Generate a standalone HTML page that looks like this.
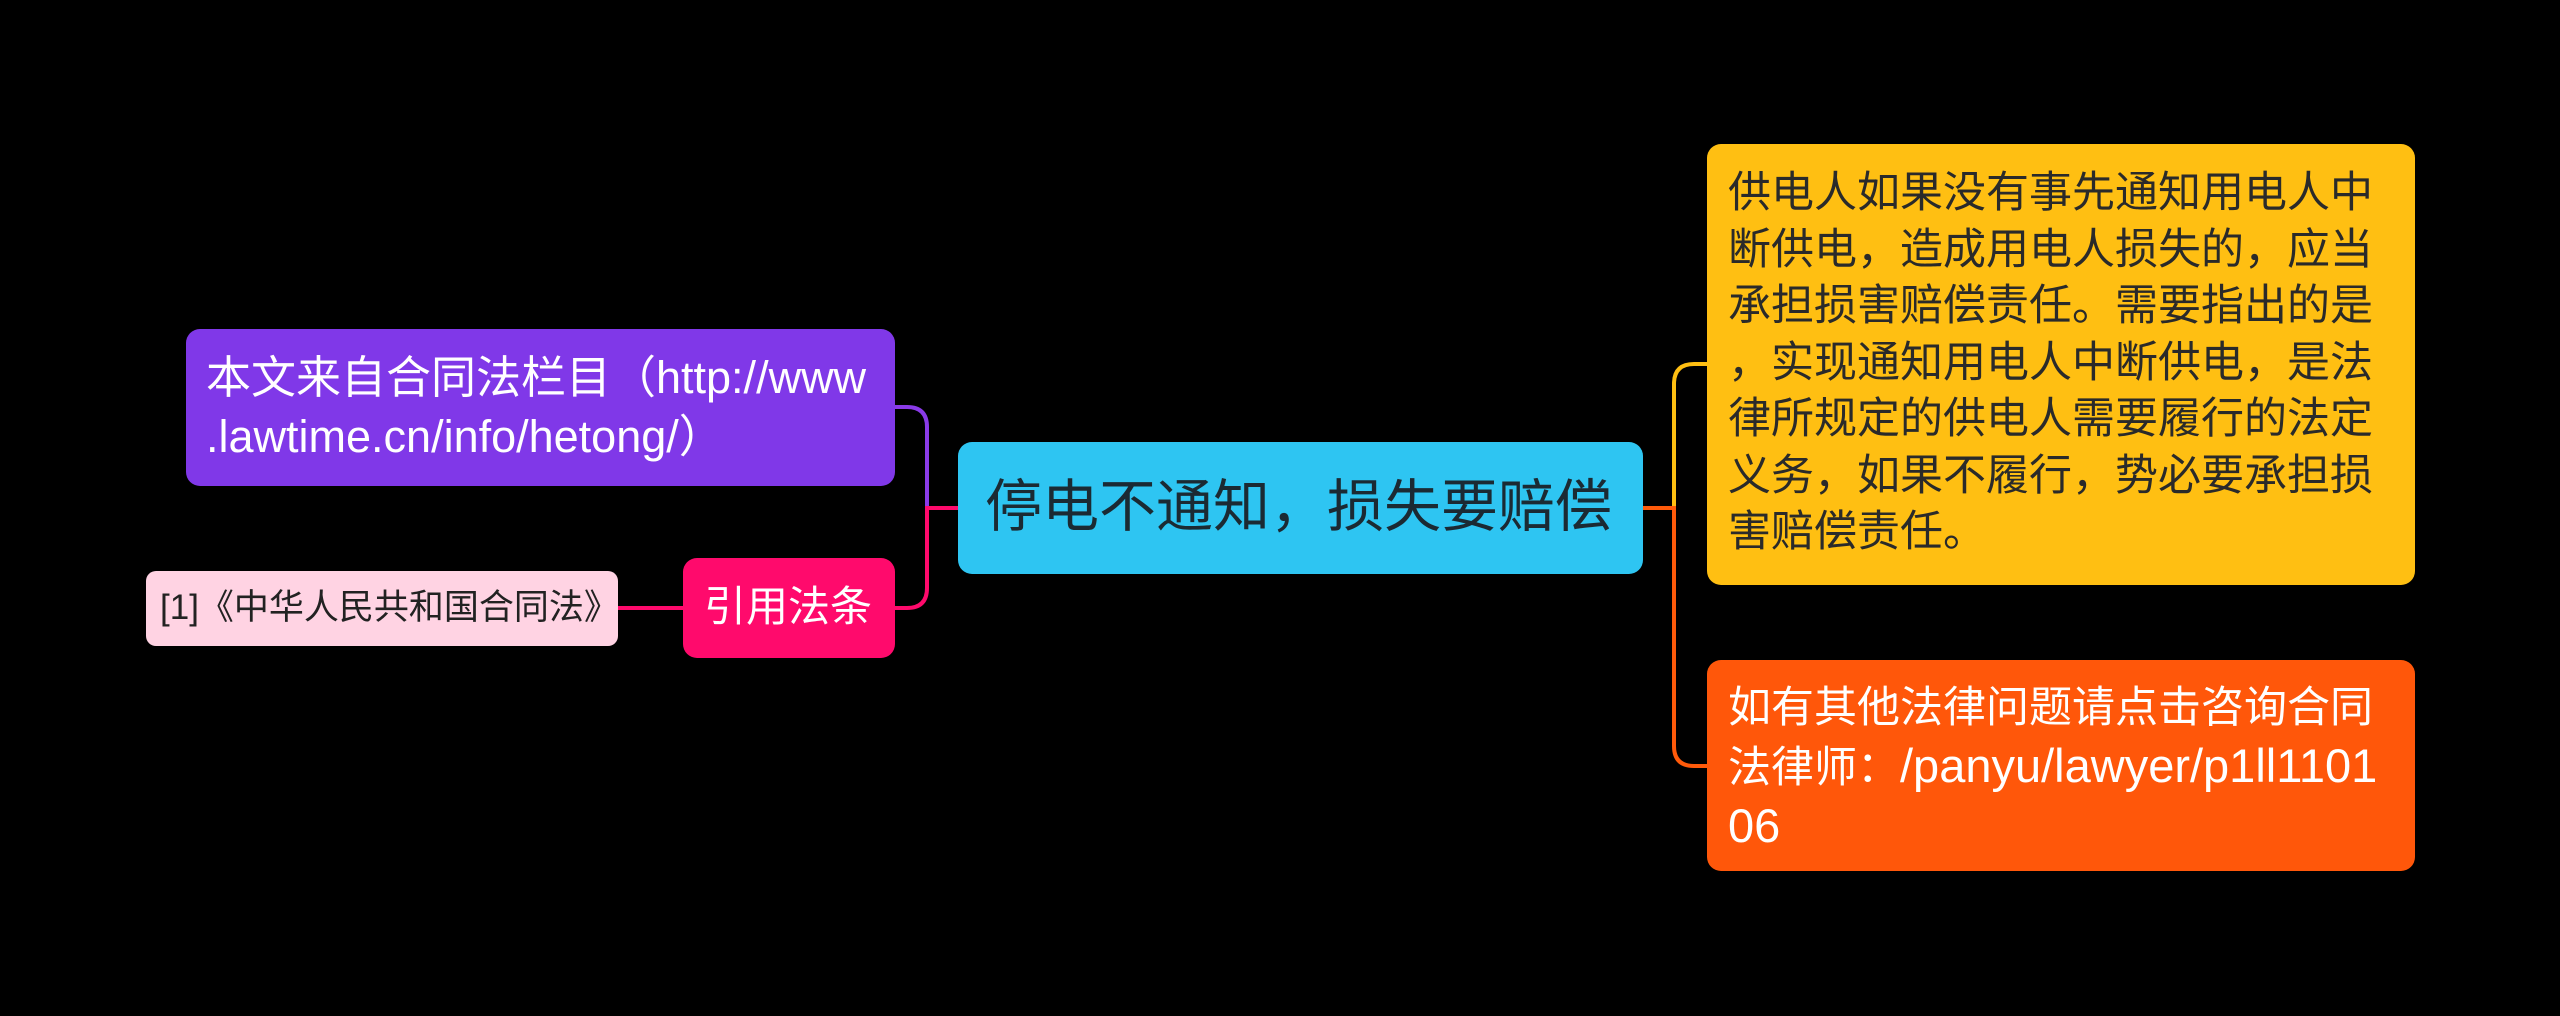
<!DOCTYPE html>
<html><head><meta charset="utf-8"><style>
html,body{margin:0;padding:0;background:#000;width:2560px;height:1016px;overflow:hidden;}
body{position:relative;font-family:"Liberation Sans","Noto Sans CJK SC",sans-serif;}
.b{position:absolute;box-sizing:border-box;border-radius:14px;}
.t{position:absolute;white-space:nowrap;}
</style></head><body>
<svg width="2560" height="1016" style="position:absolute;left:0;top:0">
<g fill="none" stroke-width="4">
<path d="M927 508 V427 Q927 407 907 407 H893" stroke="#8a3be8"/>
<path d="M958 508 H927 V588 Q927 608 907 608 H893" stroke="#ff0a6c"/>
<path d="M618 608 H685" stroke="#ff0a6c"/>
<path d="M1674 508 V384 Q1674 364 1694 364 H1709" stroke="#ffbf12"/>
<path d="M1643 508 H1674 V746 Q1674 766 1694 766 H1709" stroke="#ff5a0a"/>
</g>
</svg>
<div class="b" style="left:186px;top:329px;width:709px;height:157px;background:#8038e8;"></div>
<div class="t" style="left:206px;top:348px;font-size:45px;line-height:59px;color:#fff;">本文来自合同法栏目（http://www<br>.lawtime.cn/info/hetong/）</div>
<div class="b" style="left:958px;top:442px;width:685px;height:132px;background:#2ec5f2;"></div>
<div class="t" style="left:985px;top:474px;font-size:57px;line-height:66px;color:#1b2a33;">停电不通知，损失要赔偿</div>
<div class="b" style="left:683px;top:558px;width:212px;height:100px;background:#ff0a6c;"></div>
<div class="t" style="left:704px;top:582px;font-size:42px;line-height:50px;color:#fff;">引用法条</div>
<div class="b" style="left:146px;top:571px;width:472px;height:75px;background:#ffd3e3;border-radius:10px;"></div>
<div class="t" style="left:160px;top:588px;font-size:35px;line-height:40px;color:#222;">[1]《中华人民共和国合同法》</div>
<div class="b" style="left:1707px;top:144px;width:708px;height:441px;background:#ffbf12;"></div>
<div class="t" style="left:1728px;top:165px;font-size:43px;line-height:56.5px;color:#2a2a2a;">供电人如果没有事先通知用电人中<br>断供电，造成用电人损失的，应当<br>承担损害赔偿责任。需要指出的是<br>，实现通知用电人中断供电，是法<br>律所规定的供电人需要履行的法定<br>义务，如果不履行，势必要承担损<br>害赔偿责任。</div>
<div class="b" style="left:1707px;top:660px;width:708px;height:211px;background:#ff570a;"></div>
<div class="t" style="left:1728px;top:680px;font-size:43px;line-height:57px;color:#fff;">如有其他法律问题请点击咨询合同<br>法律师：<span style="font-size:47px">/panyu/lawyer/p1ll1101</span><br><span style="font-size:47px">06</span></div>
</body></html>
